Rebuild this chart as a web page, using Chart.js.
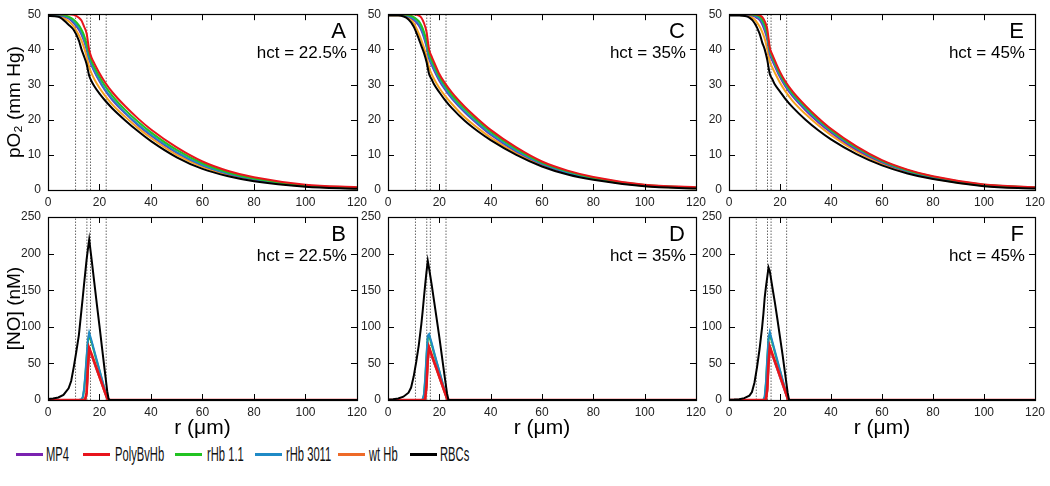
<!DOCTYPE html>
<html><head><meta charset="utf-8">
<script src="https://cdn.jsdelivr.net/npm/chart.js@4.4.1/dist/chart.umd.min.js"></script>
<style>
html,body{margin:0;padding:0;background:#fff;width:1050px;height:486px;overflow:hidden;font-family:"Liberation Sans",Arial,sans-serif;}
.panel{position:absolute;}
#legend{position:absolute;left:0;top:440px;width:1050px;height:30px;}
.swatch{position:absolute;top:13px;width:27px;height:3px;}
.label{position:absolute;top:2px;font-size:20px;line-height:24px;color:#111;white-space:nowrap;transform:scaleX(0.56);transform-origin:0 50%;}
</style></head><body>
<div id="legend"></div>
<script>
// ---------- data ----------
const SERIES = ['MP4','PolyBvHb','rHb 1.1','rHb 3011','wt Hb','RBCs'];
const LINE_COLORS = ['#7a22b0','#e8141c','#22c322','#1f8ac6','#f5a21e','#000000'];
const LEGEND_COLORS = ['#7a22b0','#e8141c','#22c322','#1f8ac6','#ee6a28','#000000'];
const DRAW_ORDER_PO2 = [4,1,2,3,5,0];
const DRAW_ORDER_NO = [5,1,3,2,4,0];

const X_TICKS = [0,20,40,60,80,100,120];
const PO2_TICKS = [0,10,20,30,40,50];
const NO_TICKS = [0,50,100,150,200,250];
const DIVIDERS = [10.7, 15.1, 16.5, 22.6];

const R_PO2 = [0,4,8,10,12,13,14,15,16,17,18,20,22,25,30,35,40,50,60,70,80,100,120];

// Panel A (hct = 22.5%)
const A_MP4     = [49.8,49.7,48.8,47.5,45.6,44.2,42.4,40.1,37.3,35.3,33.7,30.9,28.5,25.6,21.8,18.4,15.5,10.6,7.0,4.6,3.0,1.2,0.6];
const A_POLY    = [50,50,50,49.8,49,48.2,46.5,44.5,39.8,37.5,36,33.2,30.8,27.8,23.8,20.3,17.2,12.1,8.1,5.4,3.6,1.5,0.8];
const A_RHB11   = [50,50,49.3,48.4,46.8,45.6,44,41.5,38.8,36.5,35,32.2,29.8,26.8,22.8,19.4,16.4,11.4,7.6,5.0,3.3,1.3,0.7];
const A_RHB3011 = [49.8,49.8,49,47.8,46,44.6,42.8,40.5,37.6,35.6,34,31.2,28.8,25.9,22,18.6,15.7,10.8,7.1,4.7,3.1,1.2,0.6];
const A_WT      = [49.6,49.5,48,46.5,44,42.5,40.5,38,35,33,31.5,29,27,24.3,20.8,17.6,14.8,10.0,6.6,4.3,2.8,1.05,0.45];
const A_RBC     = [49.5,49.3,47,45.5,42.5,40,38,35.8,32.5,30.8,29.5,27.4,25.6,23.2,19.8,16.7,13.9,9.3,6.0,3.9,2.5,0.95,0.35];

// Panel C (hct = 35%)
const C_MP4     = [50,49.9,49.3,48.4,46.8,45.4,43.4,40.8,37.4,35.6,34,31.1,28.8,25.9,22,18.7,15.7,11,7.4,4.9,3.2,1.25,0.6];
const C_POLY    = [50,50,50,50,49.6,49,47.5,45,40,38,36.3,33,30.6,27.6,23.6,20.2,17.1,12.1,8.1,5.5,3.7,1.5,0.8];
const C_RHB11   = [50,50,49.7,49.2,48,46.8,45,42.5,38.8,37,35.4,32.3,30,26.9,23,19.6,16.6,11.7,7.8,5.3,3.5,1.4,0.7];
const C_RHB3011 = [50,50,49.5,48.7,47.2,45.8,43.8,41.2,37.8,36,34.4,31.5,29.2,26.2,22.3,19,16,11.2,7.5,5,3.3,1.3,0.6];
const C_WT      = [49.7,49.7,49,47.5,44.5,42.6,40.5,38,34.8,33,31.5,29,27,24.4,20.6,17.6,14.9,10.5,7.0,4.7,3.1,1.15,0.5];
const C_RBC     = [49.6,49.6,48.5,46.5,43,41,39,36.5,33,31.5,30,27.8,25.8,23.2,19.6,16.7,14.2,10,6.7,4.4,2.9,1.05,0.4];

// Panel E (hct = 45%)
const E_MP4     = [50,50,49.8,49.4,48.4,47.2,45.3,42.8,38.7,36.8,35.2,32.1,29.6,26.6,22.7,19.3,16.4,11.5,7.9,5.3,3.5,1.3,0.6];
const E_POLY    = [50,50,50,50,49.7,49.2,48,45.8,40.5,38.5,36.8,33.6,31,28,24,20.5,17.4,12.4,8.5,5.8,3.9,1.6,0.8];
const E_RHB11   = [50,50,50,49.8,49.3,48.5,47,44.5,40,38,36.3,33.1,30.5,27.5,23.6,20.1,17.1,12.1,8.3,5.6,3.8,1.5,0.7];
const E_RHB3011 = [50,50,49.9,49.6,48.8,47.8,46,43.5,39.3,37.4,35.7,32.6,30,27,23.1,19.7,16.7,11.8,8.1,5.4,3.6,1.4,0.7];
const E_WT      = [49.8,49.8,49.4,48.5,46.5,45,43,40,36.5,34.8,33.3,30.5,28.2,25.3,21.6,18.4,15.6,11,7.5,5,3.3,1.2,0.5];
const E_RBC     = [49.6,49.6,49,47.5,44.5,42,40,37,33,31.5,30,28,26,23.5,20,17,14.4,10.2,7,4.7,3.1,1.1,0.4];

const R_NO = [0,2,4,6,8,9,10,11,12,13,13.5,14,14.5,15,15.5,16,17,18,19,20,21,22,23,23.5,24,60,120];

// Panel B (hct = 22.5%)
const B_MP4     = [0,0,0,0,0,0,0,0,0,0,0,0,1,8,40,68,60,50,40,31,21,11,2,0,0,0,0];
const B_POLY    = [0,0,0,0,0,0,0,0,0,0,0,0,2,10,45,71,62,52,42,32,22,12,2,0,0,0,0];
const B_RHB11   = [0,0,0,0,0,0,0,0,0,0.5,3,13,32,57,79,89,78,65,52,40,27,14,2.5,0,0,0,0];
const B_RHB3011 = [0,0,0,0,0,0,0,0,0,1,4,15,35,60,82,92,80,67,54,41,28,15,3,0,0,0,0];
const B_WT      = [0,0,0,0,0,0,0,0,0,0,0,0,1,9,43,69,61,51,41,31,21,11,1.5,0,0,0,0];
const B_RBC     = [1.5,2,3.5,7,16,26,45,66,89,123,140,158,175,192,206,219,190,160,130,101,71,41,12,2,0,0,0];

// Panel D (hct = 35%)
const D_MP4     = [0,0,0,0,0,0,0,0,0,0,0,0,1.5,17,52,70,60,50,41,31,21,11,2,0,0,0,0];
const D_POLY    = [0,0,0,0,0,0,0,0,0,0,0,0,2,20,55,72,62,52,42,32,22,12,2,0,0,0,0];
const D_RHB11   = [0,0,0,0,0,0,0,0,0,0,0.5,6,27,58,85,88,76,63,51,39,26,13,2,0,0,0,0];
const D_RHB3011 = [0,0,0,0,0,0,0,0,0,0,1,8,30,62,88,90,78,65,52,40,27,14,2,0,0,0,0];
const D_WT      = [0,0,0,0,0,0,0,0,0,0,0,0,1.5,18,53,71,61,51,41,31,21,11,1.5,0,0,0,0];
const D_RBC     = [0.8,1,2,4.5,10,17,32,52,75,104,121,140,158,175,190,180,158,134,110,86,60,34,9,1,0,0,0];

// Panel F (hct = 45%)
const F_MP4     = [0,0,0,0,0,0,0,0,0,0,0,0,1,12,47,70,61,51,41,31,21,11,2,0,0,0,0];
const F_POLY    = [0,0,0,0,0,0,0,0,0,0,0,0,1.5,15,50,73,63,53,43,33,23,13,2,0,0,0,0];
const F_RHB11   = [0,0,0,0,0,0,0,0,0,0,0,3,22,55,82,90,78,65,52,40,27,14,2.5,0,0,0,0];
const F_RHB3011 = [0,0,0,0,0,0,0,0,0,0,0.5,5,25,58,85,93,80,67,54,41,28,15,3,0,0,0,0];
const F_WT      = [0,0,0,0,0,0,0,0,0,0,0,0,1,13,48,71,62,52,42,32,22,12,1.5,0,0,0,0];
const F_RBC     = [0.5,0.6,1,2.5,6,11,24,45,70,100,118,140,155,168,181,176,154,133,110,86,62,36,10,1,0,0,0];

// ---------- panels ----------
const PANELS = [
  {id:'A', hct:'hct = 22.5%', kind:'po2', xs:R_PO2, ys:[A_MP4,A_POLY,A_RHB11,A_RHB3011,A_WT,A_RBC], left:0,   top:0,   w:372, h:210, yW:48, xH:20, padT:10, padR:14, yTitle:'pO\u2082 (mm Hg)', xTitle:null},
  {id:'C', hct:'hct = 35%',   kind:'po2', xs:R_PO2, ys:[C_MP4,C_POLY,C_RHB11,C_RHB3011,C_WT,C_RBC], left:348, top:0,   w:363, h:210, yW:40, xH:20, padT:10, padR:14, yTitle:null, xTitle:null},
  {id:'E', hct:'hct = 45%',   kind:'po2', xs:R_PO2, ys:[E_MP4,E_POLY,E_RHB11,E_RHB3011,E_WT,E_RBC], left:689, top:0,   w:361, h:210, yW:40, xH:20, padT:10, padR:12, yTitle:null, xTitle:null},
  {id:'B', hct:'hct = 22.5%', kind:'no',  xs:R_NO,  ys:[B_MP4,B_POLY,B_RHB11,B_RHB3011,B_WT,B_RBC], left:0,   top:200, w:372, h:243, yW:48, xH:43, padT:17, padR:14, yTitle:'[NO] (nM)', xTitle:'r (\u03BCm)'},
  {id:'D', hct:'hct = 35%',   kind:'no',  xs:R_NO,  ys:[D_MP4,D_POLY,D_RHB11,D_RHB3011,D_WT,D_RBC], left:348, top:200, w:363, h:243, yW:40, xH:43, padT:17, padR:14, yTitle:null, xTitle:'r (\u03BCm)'},
  {id:'F', hct:'hct = 45%',   kind:'no',  xs:R_NO,  ys:[F_MP4,F_POLY,F_RHB11,F_RHB3011,F_WT,F_RBC], left:689, top:200, w:361, h:243, yW:40, xH:43, padT:17, padR:12, yTitle:null, xTitle:'r (\u03BCm)'}
];

const FONT = '"Liberation Sans", Arial, sans-serif';

const frameTicks = {
  id:'frameTicks',
  afterDatasetsDraw(chart){
    const {ctx, chartArea:a, scales} = chart;
    const L = 6;
    ctx.save();
    ctx.strokeStyle = '#000';
    ctx.lineWidth = 1;
    ctx.beginPath();
    scales.x.ticks.forEach(t => {
      const px = Math.round(scales.x.getPixelForValue(t.value)) + 0.5;
      ctx.moveTo(px, a.bottom); ctx.lineTo(px, a.bottom - L);
      ctx.moveTo(px, a.top); ctx.lineTo(px, a.top + L);
    });
    scales.y.ticks.forEach(t => {
      const py = Math.round(scales.y.getPixelForValue(t.value)) + 0.5;
      ctx.moveTo(a.left, py); ctx.lineTo(a.left + L, py);
      ctx.moveTo(a.right, py); ctx.lineTo(a.right - L, py);
    });
    ctx.stroke();
    ctx.lineWidth = 1.2;
    ctx.strokeRect(Math.round(a.left)+0.5, Math.round(a.top)+0.5, Math.round(a.right-a.left), Math.round(a.bottom-a.top));
    ctx.restore();
  }
};

const panelText = {
  id:'panelText',
  afterDraw(chart, args, opts){
    const {ctx, chartArea:a} = chart;
    ctx.save();
    ctx.fillStyle = '#000';
    ctx.textAlign = 'right';
    ctx.textBaseline = 'middle';
    ctx.font = '22px ' + FONT;
    ctx.fillText(opts.letter, a.right - 11, a.top + 18);
    ctx.font = '17px ' + FONT;
    ctx.fillText(opts.hct, a.right - 10, a.top + 39);
    ctx.restore();
  }
};

PANELS.forEach(p => {
  const div = document.createElement('div');
  div.className = 'panel';
  div.style.left = p.left + 'px';
  div.style.top = p.top + 'px';
  div.style.width = p.w + 'px';
  div.style.height = p.h + 'px';
  const cv = document.createElement('canvas');
  cv.width = p.w; cv.height = p.h;
  div.appendChild(cv);
  document.body.appendChild(div);

  const yMax = p.kind === 'po2' ? 50 : 250;
  const yTicks = p.kind === 'po2' ? PO2_TICKS : NO_TICKS;
  const order = p.kind === 'po2' ? DRAW_ORDER_PO2 : DRAW_ORDER_NO;
  const datasets = [];
  SERIES.forEach((name, i) => {
    const isRBC = name === 'RBCs';
    let w = 2;
    if (p.kind === 'no' && name === 'PolyBvHb') w = 2.6;
    datasets.push({
      label: name,
      data: p.xs.map((x, k) => ({x: x, y: p.ys[i][k]})),
      borderColor: LINE_COLORS[i],
      backgroundColor: LINE_COLORS[i],
      borderWidth: isRBC ? 2 : w,
      pointRadius: 0,
      fill: false,
      tension: 0,
      cubicInterpolationMode: p.kind === 'po2' ? 'monotone' : 'default',
      order: order[i]
    });
  });
  DIVIDERS.forEach(d => {
    datasets.push({
      label: 'div',
      data: [{x:d, y:0}, {x:d, y:yMax}],
      borderColor: '#666',
      borderWidth: 1,
      borderDash: [1.5, 1.5],
      pointRadius: 0,
      fill: false,
      order: 20
    });
  });

  new Chart(cv, {
    type: 'line',
    data: {datasets},
    options: {
      responsive: false,
      animation: false,
      devicePixelRatio: 1,
      layout: {padding: {top: p.padT, right: p.padR, left: 0, bottom: 0}},
      plugins: {
        legend: {display: false},
        tooltip: {enabled: false},
        panelText: {letter: p.id, hct: p.hct}
      },
      scales: {
        x: {
          type: 'linear', min: 0, max: 120,
          afterBuildTicks: s => { s.ticks = X_TICKS.map(v => ({value: v})); },
          grid: {display: false, drawTicks: false},
          border: {display: false},
          ticks: {color: '#222', font: {family: FONT, size: 12}, padding: 5, maxRotation: 0},
          title: p.xTitle ? {display: true, text: p.xTitle, color: '#000', font: {family: FONT, size: 21}, padding: {top: 2, bottom: 2}} : {display: false},
          afterFit: s => { s.height = p.xH; }
        },
        y: {
          type: 'linear', min: 0, max: yMax,
          afterBuildTicks: s => { s.ticks = yTicks.map(v => ({value: v})); },
          grid: {display: false, drawTicks: false},
          border: {display: false},
          ticks: {color: '#222', font: {family: FONT, size: 12}, padding: 7},
          title: p.yTitle ? {display: true, text: p.yTitle, color: '#000', font: {family: FONT, size: 19}, padding: {top: 3, bottom: 0}} : {display: false},
          afterFit: s => { s.width = p.yW; }
        }
      }
    },
    plugins: [frameTicks, panelText]
  });
});

// ---------- legend ----------
const LEG_LINE_X = [16, 83, 175, 255, 338, 410];
const LEG_TEXT_X = [46, 115, 207, 286, 369, 440];
const leg = document.getElementById('legend');
SERIES.forEach((name, i) => {
  const sw = document.createElement('div');
  sw.className = 'swatch';
  sw.style.left = LEG_LINE_X[i] + 'px';
  sw.style.background = LEGEND_COLORS[i];
  leg.appendChild(sw);
  const lb = document.createElement('div');
  lb.className = 'label';
  lb.style.left = LEG_TEXT_X[i] + 'px';
  lb.textContent = name;
  leg.appendChild(lb);
});
</script>
</body></html>
